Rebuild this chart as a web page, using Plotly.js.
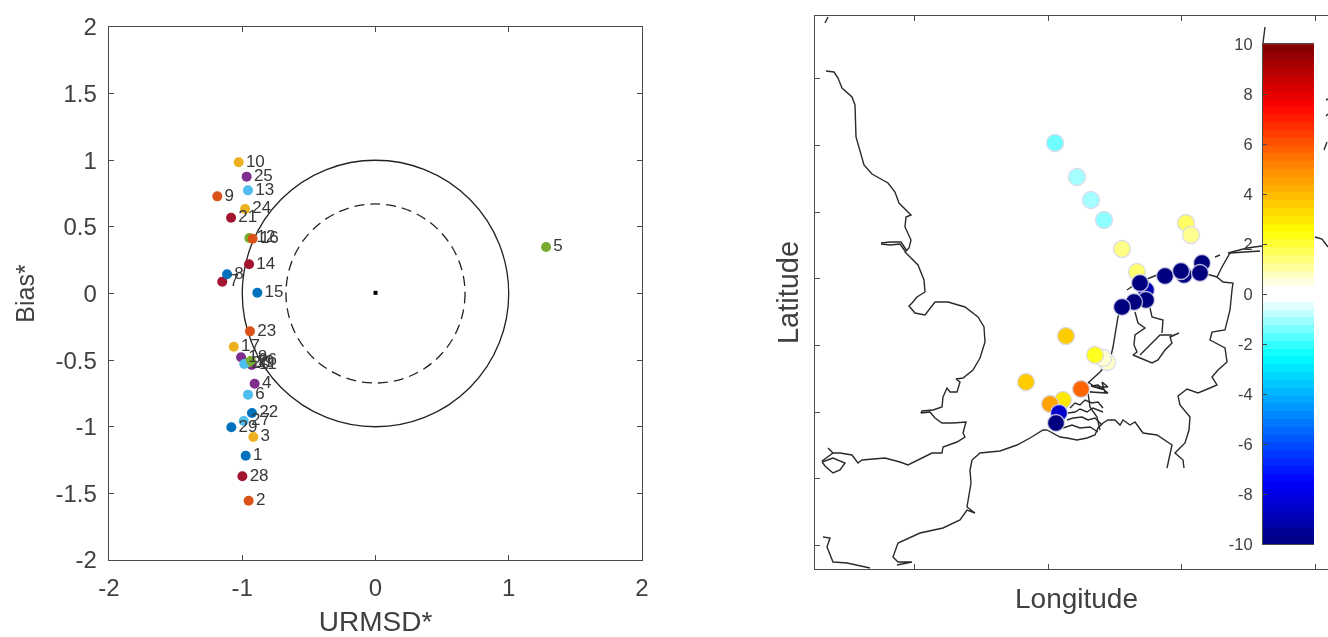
<!DOCTYPE html>
<html>
<head>
<meta charset="utf-8">
<script src="https://cdn.plot.ly/plotly-3.0.1.min.js"></script>
<style>html,body{margin:0;padding:0;background:#fff;overflow:hidden;width:1328px;height:637px}#chart{width:1338px;height:637px;filter:blur(0.6px)}</style>
</head>
<body>
<div id="chart"></div>
<script>
// Target diagram: station numbers with URMSD* and Bias*
const stationLabels = ['1','2','3','4','5','6','7','8','9','10','11','12','13','14','15','16','17','18','19','20','21','22','23','24','25','26','27','28','29'];
const urmsd = [-0.974,-0.952,-0.917,-0.907,1.28,-0.957,-1.15,-1.114,-1.187,-1.027,-0.929,-0.947,-0.957,-0.949,-0.887,-0.922,-1.064,-1.009,-0.955,-0.985,-1.084,-0.927,-0.942,-0.979,-0.967,-0.935,-0.989,-0.999,-1.082];
const bias = [-1.217,-1.555,-1.077,-0.677,0.349,-0.759,0.089,0.144,0.729,0.985,-0.537,0.416,0.774,0.219,0.006,0.411,-0.399,-0.479,-0.518,-0.529,0.569,-0.897,-0.284,0.634,0.877,-0.505,-0.957,-1.372,-1.004];
const seriesColors = ['#0072BD','#D95319','#EDB120','#7E2F8E','#77AC30','#4DBEEE','#A2142F'];

// Map of stations on a local grid (easting, northing)
const mapEast = [240,262,276,289,307,322,371,376,331,325,331,319,307,350,369,366,387,385,251,292,288,280,211,266,248,235,244,241];
const mapNorth = [426,392,369,349,320,297,346,334,279,286,269,267,262,293,294,298,306,296,233,207,211,214,187,180,169,165,156,146];
const mapBias = [-1.5,-1.0,-1.0,-1.2,1.3,1.5,1.6,1.2,-9,-10,-10,-10,-10,-10,-10,-10,-10,-10,3.6,0.7,0.6,2.2,3.6,5.7,3,4.5,-8.5,-10];

const coastEast = [11,19,23,27,37,40,41,45,49,57,73,80,84,96,91,90,96,94,90,103,109,110,102,97,94,100,110,120,133,150,163,169,170,165,158,148,141,145,142,135,132,128,127,118,107,106,115,120,127,138,151,148,150,142,128,127,117,93,85,70,47,43,37,25,18,13,null,
66,75,86,92,null,66,75,85,90,null,18,7,null,7,18,30,25,18,10,7,null,
232,228,215,202,185,165,157,155,156,154,152,160,152,145,128,105,83,78,83,97,82,null,
8,15,12,18,32,55,null,
232,245,252,262,272,280,283,288,293,300,305,308,315,320,328,342,357,352,null,
417,415,410,397,395,410,412,403,397,402,395,383,372,363,365,375,374,370,360,368,369,null,
417,418,408,402,407,415,445,null,
312,322,342,355,372,385,402,null,400,405,null,413,432,447,null,
307,303,298,295,285,273,null,
320,323,330,320,319,322,318,325,337,343,350,357,355,364,null,325,338,345,357,null,335,337,348,347,null,
273,280,293,287,290,275,293,283,276,290,null,255,260,265,270,277,283,288,null,253,260,265,272,278,288,null,252,258,267,273,280,287,null,248,257,265,275,283,null,273,275,282,285,null,
10,13,null,448,450,null,500,507,513,null,511,513,null,511,513,null,509,512];
const coastNorth = [498,497,491,481,472,464,432,419,404,395,386,377,366,354,352,342,329,321,317,304,289,277,272,266,263,256,254,267,267,262,252,242,227,211,199,191,190,187,177,177,181,172,162,159,158,156,157,151,146,146,147,136,132,127,122,116,116,104,107,111,109,106,114,116,116,121,null,
326,327,327,318,null,325,324,325,318,null,116,108,null,107,111,106,99,96,103,107,null,
139,139,131,124,118,116,109,99,86,72,62,56,59,49,41,36,26,12,7,7,4,null,
32,31,22,7,6,1,null,
139,132,131,129,131,134,141,146,149,149,144,149,144,147,136,134,124,101,null,
279,259,239,237,229,221,207,199,192,184,181,176,180,173,164,152,139,126,116,109,101,null,
279,286,287,292,302,316,318,null,
279,286,294,297,297,297,292,null,312,314,null,316,321,323,null,
262,252,222,209,197,186,null,
257,246,241,234,224,217,214,211,206,209,219,226,232,236,null,214,227,234,234,null,261,252,249,236,null,
187,182,182,187,176,177,176,184,183,179,null,161,166,164,169,166,167,161,null,156,157,160,157,161,157,null,149,151,152,149,151,144,null,141,144,141,142,137,null,176,162,152,139,null,
546,552,null,526,542,null,332,330,322,null,469,470,null,453,455,null,419,427];

// Colour bar levels
const barLevels = [-9.84,-9.53,-9.22,-8.91,-8.59,-8.28,-7.97,-7.66,-7.34,-7.03,-6.72,-6.41,-6.09,-5.78,-5.47,-5.16,-4.84,-4.53,-4.22,-3.91,-3.59,-3.28,-2.97,-2.66,-2.34,-2.03,-1.72,-1.41,-1.09,-0.78,-0.47,-0.16,0.16,0.47,0.78,1.09,1.41,1.72,2.03,2.34,2.66,2.97,3.28,3.59,3.91,4.22,4.53,4.84,5.16,5.47,5.78,6.09,6.41,6.72,7.03,7.34,7.66,7.97,8.28,8.59,8.91,9.22,9.53,9.84];
const barTicks = [-10,-8,-6,-4,-2,0,2,4,6,8,10];
const biasScale = [[0,'#00007f'],[0.125,'#0000ff'],[0.375,'#00ffff'],[0.49,'#ffffff'],[0.51,'#ffffff'],[0.625,'#ffff00'],[0.75,'#ff8c00'],[0.875,'#ff0000'],[1,'#7f0000']];

const eastTicks = [99,233,366,500];
const northTicks = [24,91,157,224,291,357,424,491];
const targetTicks = [-2,-1,0,1,2];
const targetYTicks = [-2,-1.5,-1,-0.5,0,0.5,1,1.5,2];

const W = 1338, H = 637;
const textColor = '#404040', lineColor = '#4a4a4a', fontFamily = '"Liberation Sans", Arial, sans-serif';
const px = v => v / W, py = v => 1 - v / H;
const baseAxis = {showgrid:false, zeroline:false, showline:true, linecolor:lineColor, linewidth:1.3, ticks:'inside', ticklen:5, tickcolor:lineColor, tickwidth:1, automargin:false, tickfont:{family:fontFamily,size:24,color:textColor}};

const traces = [
  {type:'scatter', mode:'markers', x:[0], y:[0.005], marker:{symbol:'square',size:4,color:'#000'}, xaxis:'x', yaxis:'y', hoverinfo:'skip'},
  {type:'scatter', mode:'markers+text', x:urmsd, y:bias, text:stationLabels, textposition:'middle right',
   textfont:{family:fontFamily,size:17,color:'#383838'},
   marker:{size:10,color:stationLabels.map((_,i)=>seriesColors[i%7])}, cliponaxis:false, xaxis:'x', yaxis:'y', hoverinfo:'skip'},
  {type:'scatter', mode:'lines', x:coastEast, y:coastNorth, connectgaps:false, line:{color:'#2a2a2a',width:1.4}, xaxis:'x2', yaxis:'y2', hoverinfo:'skip'},
  {type:'scatter', mode:'markers', x:mapEast, y:mapNorth,
   marker:{size:17,color:mapBias,cmin:-10,cmax:10,colorscale:biasScale,showscale:false,line:{color:'rgba(215,215,235,0.85)',width:1.3}},
   xaxis:'x2', yaxis:'y2', hoverinfo:'skip'},
  {type:'heatmap', x:[0], y:barLevels, z:barLevels.map(v=>[v]), zmin:-10, zmax:10, colorscale:biasScale, showscale:false, xaxis:'x3', yaxis:'y3', hoverinfo:'skip'}
];

const layout = {
  width:W, height:H, margin:{l:0,r:0,t:0,b:0}, paper_bgcolor:'#fff', plot_bgcolor:'#fff', showlegend:false,
  xaxis:Object.assign({}, baseAxis, {domain:[px(109),px(642)], range:[-2,2], tickvals:targetTicks, ticktext:targetTicks.map(String), mirror:'ticks', anchor:'y', ticklabelstandoff:6,
    title:{text:'URMSD*',standoff:15,font:{family:fontFamily,size:28,color:textColor}}}),
  yaxis:Object.assign({}, baseAxis, {domain:[py(560),py(27)], range:[-2,2], tickvals:targetYTicks, ticktext:targetYTicks.map(String), mirror:'ticks', anchor:'x', ticklabelstandoff:6,
    title:{text:'Bias*',standoff:13,font:{family:fontFamily,size:25,color:textColor}}}),
  xaxis2:Object.assign({}, baseAxis, {domain:[px(815),1], range:[0,523], tickvals:eastTicks, showticklabels:false, mirror:'ticks', anchor:'y2',
    title:{text:'Longitude',standoff:19,font:{family:fontFamily,size:28,color:textColor}}}),
  yaxis2:Object.assign({}, baseAxis, {domain:[py(569),py(16)], range:[0,553], tickvals:northTicks, showticklabels:false, anchor:'x2',
    title:{text:'Latitude',standoff:6,font:{family:fontFamily,size:29,color:textColor}}}),
  xaxis3:{domain:[px(1263),px(1314)], range:[-0.5,0.5], anchor:'y3', showgrid:false, zeroline:false, showticklabels:false, ticks:'', showline:true, mirror:true, linecolor:lineColor, linewidth:1},
  yaxis3:{domain:[py(544),py(44)], range:[-10,10], anchor:'x3', showgrid:false, zeroline:false, showline:true, linecolor:lineColor, linewidth:1, ticks:'inside', ticklen:4, tickcolor:lineColor, tickvals:barTicks, ticktext:barTicks.map(String), ticklabelstandoff:6, tickfont:{family:fontFamily,size:16.5,color:textColor}},
  shapes:[
    {type:'circle', xref:'x', yref:'y', x0:-1, x1:1, y0:-1, y1:1, layer:'below', line:{color:'#222',width:1.3}},
    {type:'circle', xref:'x', yref:'y', x0:-0.672, x1:0.672, y0:-0.672, y1:0.672, layer:'below', line:{color:'#222',width:1.3,dash:'10px,6px'}}
  ]
};
Plotly.newPlot('chart', traces, layout, {displayModeBar:false, staticPlot:true});
</script>
</body>
</html>
